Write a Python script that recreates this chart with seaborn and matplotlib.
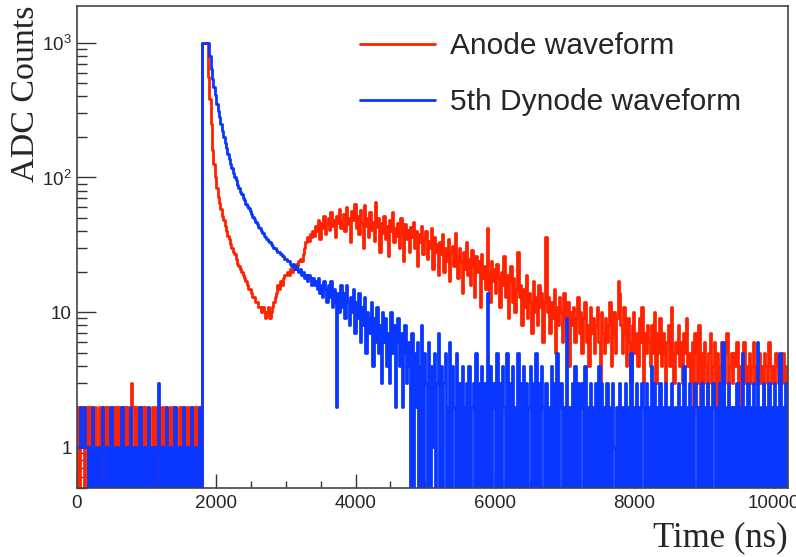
import numpy as np
import pandas as pd
import matplotlib
matplotlib.use("Agg")
import matplotlib.pyplot as plt
from matplotlib.lines import Line2D
from matplotlib.ticker import MultipleLocator, LogLocator, NullFormatter, FixedLocator, FixedFormatter
import seaborn as sns

# waveform histograms, 20 ns bins from 0 to 10200 ns
bin_width = 20
labels = ["Anode waveform", "5th Dynode waveform"]
colors = ["#ff2200", "#0a37ff"]

anode_counts = [
    2, 0, 2, 1, 2, 0, 1, 2, 0, 2,
    0, 2, 0, 2, 1, 0, 2, 0, 2, 1,
    2, 0, 2, 0, 1, 2, 0, 2, 0, 2,
    0, 1, 2, 0, 2, 0, 2, 1, 0, 3,
    2, 0, 2, 0, 1, 2, 0, 2, 0, 2,
    0, 2, 1, 0, 2, 0, 2, 0, 1, 2,
    0, 2, 0, 2, 0, 1, 2, 0, 2, 0,
    2, 0, 1, 2, 0, 2, 0, 2, 0, 2,
    1, 2, 0, 2, 0, 2, 1, 0, 2, 0,
    1000, 1000, 1000, 1000, 560, 380, 250, 160, 125, 100,
    84, 72, 65, 58, 52, 48, 44, 40, 37, 35,
    32, 30, 28, 27, 25, 23, 22, 21, 20, 19,
    18, 17, 16, 15, 15, 14, 13, 13, 12, 12,
    11, 11, 10, 11, 10, 9, 10, 11, 9, 10,
    11, 12, 13, 14, 16, 15, 17, 16, 18, 19,
    19, 20, 19, 21, 20, 22, 21, 23, 22, 24,
    25, 24, 27, 30, 33, 36, 34, 38, 36, 40,
    37, 44, 40, 48, 35, 46, 42, 52, 38, 45,
    50, 41, 55, 44, 48, 36, 52, 46, 58, 42,
    47, 54, 40, 60, 45, 50, 33, 56, 48, 64,
    42, 52, 38, 57, 46, 30, 62, 44, 50, 36,
    55, 41, 47, 34, 66, 43, 50, 28, 46, 39,
    52, 35, 44, 26, 48, 40, 55, 33, 42, 37,
    46, 30, 50, 38, 24, 45, 35, 41, 28, 43,
    36, 47, 30, 40, 22, 38, 33, 44, 27, 35,
    40, 25, 34, 30, 42, 21, 36, 28, 32, 19,
    33, 27, 38, 20, 30, 24, 35, 17, 28, 31,
    22, 39, 26, 18, 30, 24, 14, 28, 21, 33,
    19, 25, 16, 29, 22, 13, 26, 20, 24, 11,
    27, 18, 22, 15, 42, 20, 12, 24, 17, 21,
    14, 23, 18, 11, 20, 16, 26, 13, 19, 9,
    17, 22, 12, 18, 10, 15, 28, 13, 16, 8,
    15, 11, 19, 9, 14, 12, 7, 17, 10, 13,
    8, 16, 11, 14, 6, 12, 36, 10, 13, 7,
    12, 9, 15, 5, 11, 8, 13, 10, 6, 14,
    9, 7, 12, 4, 10, 8, 11, 6, 9, 13,
    7, 10, 5, 9, 12, 6, 8, 4, 11, 7,
    9, 5, 8, 11, 6, 3, 10, 7, 5, 9,
    6, 8, 12, 4, 7, 10, 5, 9, 17, 14,
    8, 5, 11, 7, 4, 9, 6, 3, 8, 10,
    5, 7, 4, 9, 6, 11, 3, 7, 5, 8,
    6, 4, 8, 5, 10, 3, 7, 5, 9, 4,
    7, 5, 3, 6, 8, 4, 11, 5, 3, 6,
    5, 8, 4, 6, 3, 7, 5, 9, 4, 5,
    3, 6, 2, 7, 5, 3, 8, 2, 5, 3,
    6, 4, 2, 5, 7, 3, 4, 6, 2, 5,
    4, 3, 6, 2, 3, 5, 7, 3, 4, 5,
    3, 5, 4, 6, 3, 4, 2, 5, 6, 3,
    4, 3, 5, 3, 4, 6, 3, 4, 3, 5,
    3, 4, 2, 5, 4, 3, 6, 4, 3, 4,
    3, 5, 4, 3, 4, 3, 5, 3, 4, 1,
]

dynode_counts = [
    1, 1, 2, 1, 1, 2, 1, 1, 0, 1,
    0, 2, 0, 1, 0, 1, 0, 1, 2, 0,
    1, 0, 1, 0, 2, 0, 1, 0, 1, 0,
    1, 0, 2, 0, 1, 0, 1, 0, 2, 1,
    0, 1, 0, 1, 0, 2, 0, 1, 0, 1,
    0, 2, 0, 1, 0, 1, 0, 1, 3, 0,
    1, 0, 1, 0, 2, 0, 1, 0, 1, 0,
    2, 0, 1, 0, 1, 0, 2, 0, 1, 0,
    1, 0, 2, 0, 1, 0, 1, 0, 2, 0,
    1000, 1000, 1000, 1000, 1000, 800, 640, 540, 470, 410,
    350, 310, 280, 250, 220, 200, 180, 165, 150, 138,
    126, 118, 108, 100, 95, 88, 83, 78, 75, 71,
    68, 64, 61, 59, 56, 54, 51, 49, 47, 45,
    43, 42, 40, 39, 37, 36, 35, 34, 33, 32,
    31, 30, 30, 29, 28, 28, 27, 26, 26, 25,
    25, 24, 24, 23, 22, 23, 21, 22, 21, 20,
    21, 19, 20, 18, 19, 17, 19, 18, 16, 18,
    16, 17, 15, 18, 14, 16, 13, 17, 15, 12,
    16, 13, 17, 11, 15, 12, 2, 14, 10, 16,
    11, 14, 9, 16, 12, 8, 13, 10, 15, 7,
    12, 9, 14, 6, 11, 8, 13, 5, 10, 9,
    7, 12, 4, 9, 6, 11, 5, 8, 3, 10,
    6, 9, 4, 7, 3, 10, 5, 8, 2, 6,
    9, 4, 7, 2, 5, 8, 3, 6, 4, 0,
    7, 0, 5, 2, 6, 0, 4, 8, 0, 5,
    3, 0, 6, 0, 4, 1, 5, 0, 3, 7,
    0, 4, 0, 3, 5, 0, 2, 6, 0, 4,
    2, 0, 5, 0, 3, 0, 4, 2, 0, 3,
    0, 4, 0, 2, 3, 0, 5, 0, 3, 0,
    4, 0, 3, 0, 14, 0, 4, 0, 3, 2,
    0, 5, 0, 3, 0, 4, 2, 0, 5, 0,
    3, 0, 4, 0, 2, 0, 5, 0, 3, 0,
    4, 0, 3, 0, 2, 4, 0, 3, 0, 5,
    0, 3, 0, 4, 2, 0, 3, 0, 2, 0,
    4, 0, 3, 0, 5, 0, 2, 3, 0, 2,
    0, 9, 0, 2, 0, 3, 0, 4, 0, 3,
    0, 2, 3, 0, 4, 0, 2, 0, 3, 0,
    2, 0, 3, 0, 4, 0, 3, 0, 2, 0,
    3, 0, 2, 0, 3, 1, 0, 2, 0, 3,
    0, 2, 0, 3, 0, 2, 0, 5, 0, 2,
    0, 3, 0, 2, 0, 3, 2, 0, 3, 0,
    2, 0, 4, 0, 3, 0, 2, 0, 3, 0,
    2, 0, 3, 0, 2, 0, 3, 2, 0, 2,
    0, 3, 0, 2, 0, 4, 0, 2, 0, 3,
    0, 2, 0, 3, 2, 0, 2, 0, 3, 0,
    2, 0, 3, 0, 2, 0, 3, 2, 0, 2,
    0, 3, 0, 6, 0, 2, 0, 3, 0, 2,
    0, 2, 0, 3, 0, 2, 0, 5, 0, 2,
    0, 3, 0, 2, 0, 3, 0, 2, 6, 0,
    2, 0, 3, 0, 2, 0, 3, 0, 2, 0,
    3, 0, 2, 0, 5, 0, 2, 0, 3, 0,
]

n_bins = len(anode_counts)
bin_centers = bin_width * np.arange(n_bins) + bin_width / 2

df = pd.concat([
    pd.DataFrame({"time": bin_centers, "counts": anode_counts, "waveform": labels[0]}),
    pd.DataFrame({"time": bin_centers, "counts": dynode_counts, "waveform": labels[1]}),
])

sns.set_style("ticks")
plt.rcParams["font.family"] = ["Liberation Sans", "DejaVu Sans"]
plt.rcParams["mathtext.default"] = "regular"

fig = plt.figure(figsize=(7.96, 5.57), dpi=100)
ax = fig.add_axes([0.0964, 0.1244, 0.8932, 0.8654])

sns.lineplot(data=df, x="time", y="counts", hue="waveform", hue_order=labels,
             palette=colors, estimator=None, drawstyle="steps-mid",
             linewidth=2.0, legend=False, ax=ax)

ax.set_yscale("log")
ax.set_xlim(0, n_bins * bin_width)
ax.set_ylim(0.5, 1880)

# ROOT-like axes
ax.xaxis.set_major_locator(MultipleLocator(2000))
ax.xaxis.set_minor_locator(MultipleLocator(500))
ax.yaxis.set_major_locator(FixedLocator([1, 10, 100, 1000]))
ax.yaxis.set_major_formatter(FixedFormatter(["1", "10", "$10^{2}$", "$10^{3}$"]))
ax.yaxis.set_minor_locator(LogLocator(base=10, subs=np.arange(2, 10)))
ax.yaxis.set_minor_formatter(NullFormatter())

ax.tick_params(axis="both", which="both", direction="in", top=False, right=False,
               labelsize=13.5, color="#333333", width=1)
ax.tick_params(axis="x", which="major", length=10, pad=5)
ax.tick_params(axis="x", which="minor", length=5)
ax.tick_params(axis="y", which="major", length=14, pad=3.5)
ax.tick_params(axis="y", which="minor", length=7)

for side in ["left", "bottom", "top", "right"]:
    ax.spines[side].set_color("#444444")
    ax.spines[side].set_linewidth(1.2)

ax.set_xlabel("Time (ns)", fontsize=25, family="Liberation Serif", loc="right")
ax.set_ylabel("ADC Counts", fontsize=24.5, family="Liberation Serif", loc="top")
ax.xaxis.set_label_coords(1.0, -0.07)
ax.yaxis.set_label_coords(-0.05, 1.0)

handles = [Line2D([], [], color=c, lw=2.0) for c in colors]
ax.legend(handles, labels, frameon=False, fontsize=21.5, handlelength=2.5,
          handletextpad=0.5, labelspacing=0.95, loc="upper left",
          bbox_to_anchor=(0.382, 0.97), borderaxespad=0)

fig.savefig("out.png", dpi=100)
